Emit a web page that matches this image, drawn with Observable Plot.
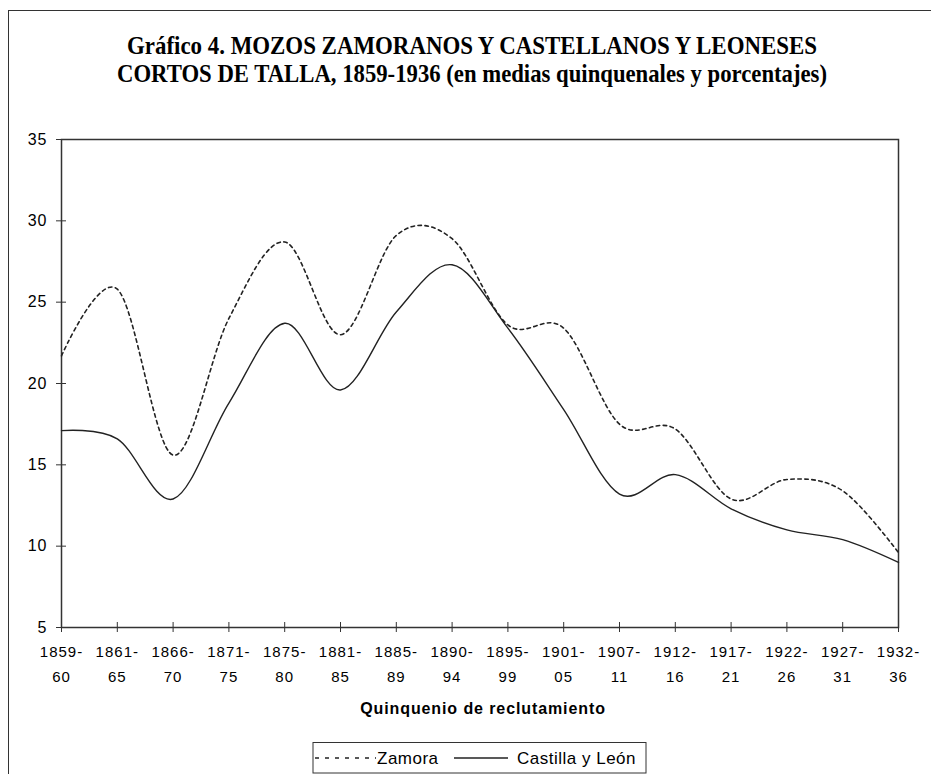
<!DOCTYPE html>
<html>
<head>
<meta charset="utf-8">
<script src="https://cdn.jsdelivr.net/npm/d3@7"></script>
<script src="https://cdn.jsdelivr.net/npm/@observablehq/plot@0.6"></script>
<style>
  html, body { margin: 0; padding: 0; background: #fff; }
  #wrap { position: relative; width: 931px; height: 774px; overflow: hidden; background: #fff; }
  #outer { position: absolute; left: 8px; top: 10px; width: 960px; height: 820px; border: 1.5px solid #333; box-sizing: border-box; }
  #wrap svg.plot { position: absolute; left: 0; top: 0; }
  #overlay { position: absolute; left: 0; top: 0; pointer-events: none; }
  g[aria-label="x-axis tick label"] text { letter-spacing: 1px; }
  g[aria-label="y-axis tick label"] text { letter-spacing: 1px; }
</style>
</head>
<body>
<div id="wrap"><div id="outer"></div></div>
<script>
// ---- data ----
const categories = ["1859-60","1861-65","1866-70","1871-75","1875-80","1881-85","1885-89","1890-94","1895-99","1901-05","1907-11","1912-16","1917-21","1922-26","1927-31","1932-36"];
const zamora   = [21.7, 25.8, 15.6, 24.0, 28.7, 23.0, 29.1, 28.9, 23.6, 23.4, 17.5, 17.2, 12.9, 14.1, 13.4, 9.6];
const castilla = [17.1, 16.6, 12.9, 18.8, 23.7, 19.6, 24.4, 27.3, 23.4, 18.4, 13.2, 14.4, 12.3, 11.0, 10.4, 9.0];
const seriesNames = ["Zamora", "Castilla y León"];
const yTicks = [5, 10, 15, 20, 25, 30, 35];
const titleLines = ["Gráfico 4. MOZOS ZAMORANOS Y CASTELLANOS Y LEONESES", "CORTOS DE TALLA, 1859-1936 (en medias quinquenales y porcentajes)"];
const xLabel = "Quinquenio de reclutamiento";

const rows = categories.flatMap((c, i) => [
  {cat: c, value: zamora[i], serie: seriesNames[0]},
  {cat: c, value: castilla[i], serie: seriesNames[1]}
]);

const ink = "#222";
const dash = "3.5,3.5";

const chart = Plot.plot({
  width: 931,
  height: 700,
  marginLeft: 61,
  marginRight: 33,
  marginTop: 139,
  marginBottom: 73,
  style: {fontFamily: "'Liberation Sans', Arial, sans-serif", fontSize: "16px", color: "#000", background: "transparent"},
  x: {type: "point", domain: categories, padding: 0, round: false},
  y: {domain: [5, 35]},
  marks: [
    Plot.axisY({ticks: yTicks, tickSize: 5, tickPadding: 9, fontSize: 16, stroke: "#333", label: null}),
    Plot.axisY({ticks: yTicks, tickSize: -5, tickFormat: () => "", stroke: "#333", label: null}),
    Plot.axisX({tickSize: 5, tickPadding: 14, fontSize: 15, stroke: "#333", label: null, tickFormat: d => d.split("-")[0] + "-"}),
    Plot.axisX({tickSize: 0, tickPadding: 44, fontSize: 15, label: null, tickFormat: d => d.split("-")[1]}),
    Plot.axisX({tickSize: -5, tickFormat: () => "", stroke: "#333", label: null}),
    Plot.frame({stroke: "#333", strokeWidth: 1.5}),
    Plot.line(rows.filter(d => d.serie === seriesNames[1]), {x: "cat", y: "value", curve: "cardinal", stroke: ink, strokeWidth: 1.4}),
    Plot.line(rows.filter(d => d.serie === seriesNames[0]), {x: "cat", y: "value", curve: "cardinal", stroke: ink, strokeWidth: 1.6, strokeDasharray: dash})
  ]
});
chart.classList.add("plot");
document.getElementById("wrap").appendChild(chart);

// ---- overlay: title, axis title, legend ----
const ov = d3.select("#wrap").append("svg").attr("id", "overlay").attr("width", 931).attr("height", 774);
const tl = [{y: 54, len: 690}, {y: 82, len: 710}];
titleLines.forEach((t, i) => {
  ov.append("text").attr("x", 472).attr("y", tl[i].y)
    .attr("text-anchor", "middle")
    .attr("textLength", tl[i].len).attr("lengthAdjust", "spacingAndGlyphs")
    .style("font-family", "'Liberation Serif', 'Times New Roman', serif")
    .style("font-weight", "bold").style("font-size", "26px").attr("fill", "#000")
    .text(t);
});
ov.append("text").attr("x", 483).attr("y", 708).attr("text-anchor", "middle").attr("dominant-baseline", "central")
  .style("font-family", "'Liberation Sans', Arial, sans-serif").style("font-weight", "bold")
  .style("font-size", "16px").style("letter-spacing", "0.9px").attr("fill", "#000").text(xLabel);

// legend
ov.append("rect").attr("x", 313).attr("y", 742.5).attr("width", 333).attr("height", 30.5)
  .attr("fill", "#fff").attr("stroke", "#333").attr("stroke-width", 1);
const legendItems = [
  {name: seriesNames[0], x1: 315, x2: 376, tx: 377, dash: "4,6"},
  {name: seriesNames[1], x1: 454, x2: 508, tx: 517, dash: null}
];
legendItems.forEach(it => {
  const l = ov.append("line").attr("x1", it.x1).attr("x2", it.x2).attr("y1", 758).attr("y2", 758)
    .attr("stroke", ink).attr("stroke-width", 1.5);
  if (it.dash) l.attr("stroke-dasharray", it.dash);
  ov.append("text").attr("x", it.tx).attr("y", 758).attr("dominant-baseline", "central")
    .style("font-family", "'Liberation Sans', Arial, sans-serif").style("font-size", "17px")
    .style("letter-spacing", "0.5px").attr("fill", "#000").text(it.name);
});
</script>
</body>
</html>
